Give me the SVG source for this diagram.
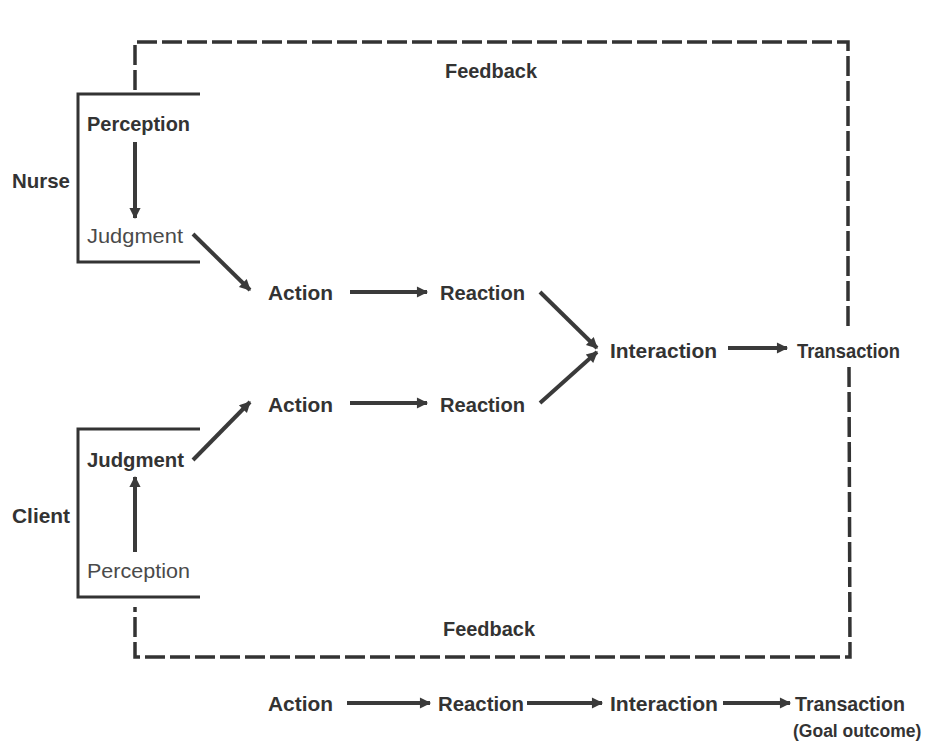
<svg xmlns="http://www.w3.org/2000/svg" width="930" height="750" viewBox="0 0 930 750">
<defs>
<marker id="ah" viewBox="0 0 10 10" refX="9" refY="5" markerWidth="3.6" markerHeight="2.8" orient="auto" markerUnits="strokeWidth">
<path d="M0,0 L10,5 L0,10 z" fill="#3a3a3a"/>
</marker>
<style>
text{font-family:"Liberation Sans",Arial,sans-serif;font-size:21px;font-weight:bold;fill:#333}
.lt{font-weight:normal;fill:#4a4a4a}
.sm{font-size:17.5px}
.br{fill:none;stroke:#333;stroke-width:3}
.fb{fill:none;stroke:#333;stroke-width:3.5;stroke-dasharray:20 5}
.ar{fill:none;stroke:#3a3a3a;stroke-width:4;marker-end:url(#ah)}
</style>
</defs>
<rect width="930" height="750" fill="#fff"/>

<g id="feedback-loop">
<path class="fb" d="M135,90 L135,42 L848,42 L848,330"/>
<path class="fb" d="M849,367 L850,657 L135,657 L135,607"/>
</g>

<g id="nurse">
<path class="br" d="M200,94 L78,94 L78,262 L200,262"/>
<text x="12" y="188" textLength="58" lengthAdjust="spacingAndGlyphs">Nurse</text>
</g>
<g id="nurse-perception"><text x="87" y="131" textLength="103" lengthAdjust="spacingAndGlyphs">Perception</text></g>
<g id="nurse-judgment"><text class="lt" x="87" y="243" textLength="96" lengthAdjust="spacingAndGlyphs">Judgment</text></g>

<g id="client">
<path class="br" d="M200,429 L78,429 L78,597 L200,597"/>
<text x="12" y="523" textLength="58" lengthAdjust="spacingAndGlyphs">Client</text>
</g>
<g id="client-judgment"><text x="87" y="467" textLength="97" lengthAdjust="spacingAndGlyphs">Judgment</text></g>
<g id="client-perception"><text class="lt" x="87" y="578" textLength="103" lengthAdjust="spacingAndGlyphs">Perception</text></g>

<g id="action-nurse"><text x="268" y="300" textLength="65" lengthAdjust="spacingAndGlyphs">Action</text></g>
<g id="reaction-nurse"><text x="440" y="300" textLength="85" lengthAdjust="spacingAndGlyphs">Reaction</text></g>
<g id="action-client"><text x="268" y="412" textLength="65" lengthAdjust="spacingAndGlyphs">Action</text></g>
<g id="reaction-client"><text x="440" y="412" textLength="85" lengthAdjust="spacingAndGlyphs">Reaction</text></g>
<g id="interaction"><text x="610" y="358" textLength="107" lengthAdjust="spacingAndGlyphs">Interaction</text></g>
<g id="transaction"><text x="797" y="358" textLength="103" lengthAdjust="spacingAndGlyphs">Transaction</text></g>
<g id="feedback-top"><text x="445" y="78" textLength="92" lengthAdjust="spacingAndGlyphs">Feedback</text></g>
<g id="feedback-bottom"><text x="443" y="636" textLength="92" lengthAdjust="spacingAndGlyphs">Feedback</text></g>

<g id="summary-row">
<text x="268" y="711" textLength="65" lengthAdjust="spacingAndGlyphs">Action</text>
<text x="438" y="711" textLength="86" lengthAdjust="spacingAndGlyphs">Reaction</text>
<text x="610" y="711" textLength="108" lengthAdjust="spacingAndGlyphs">Interaction</text>
<text x="795" y="711" textLength="110" lengthAdjust="spacingAndGlyphs">Transaction</text>
<text class="sm" x="793" y="737">(Goal outcome)</text>
</g>

<g id="connectors">
<path class="ar" d="M135,142 L135,218"/>
<path class="ar" d="M135,552 L135,477"/>
<path class="ar" d="M193,234 L250,290"/>
<path class="ar" d="M193,460 L250,402"/>
<path class="ar" d="M350,292 L427,292"/>
<path class="ar" d="M350,403 L427,403"/>
<path class="ar" d="M540,292 L597,348"/>
<path class="ar" d="M540,403 L597,352"/>
<path class="ar" d="M728,348 L787,348"/>
<path class="ar" d="M347,703 L430,703"/>
<path class="ar" d="M527,703 L602,703"/>
<path class="ar" d="M723,703 L790,703"/>
</g>
</svg>
